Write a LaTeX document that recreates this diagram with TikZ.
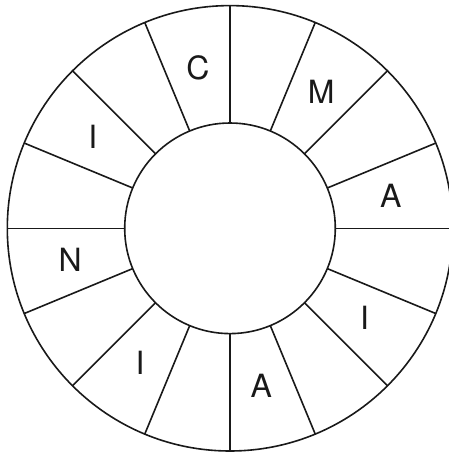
\documentclass[tikz,border=0pt]{standalone}
\usepackage{fontspec}
\setmainfont{TeX Gyre Heros}
\usetikzlibrary{calc}
\begin{document}
\begin{tikzpicture}[x=1pt,y=1pt,
  ring/.style={line width=1.6pt, draw=black!90},
  letter/.style={font=\fontsize{32}{32}\selectfont, inner sep=0pt, text=black!90}]
\useasboundingbox (0,0) rectangle (449,-452);
\clip (0,0) rectangle (449,-452);
\coordinate (O) at (230,-228.3);
\draw[ring] (O) circle[radius=222.7];
\draw[ring] (O) circle[radius=105.3];
\foreach \a in {0,22.5,...,337.5}{
  \draw[ring] ($(O)+(\a:105.3)$) -- ($(O)+(\a:222.7)$);
}
\node[letter] (c)  at ($(O)+(101.25:164)$) {C};
\node[letter] (m)  at ($(O)+(56.25:164)$) {M};
\node[letter] (a1) at ($(O)+(11.25:164)$) {A};
\node[letter] (i1) at ($(O)+(-33.75:162)$) {I};
\node[letter] (a2) at ($(O)+(-78.75:161)$) {A};
\node[letter] (i2) at ($(O)+(-123.75:162)$) {I};
\node[letter] (n)  at ($(O)+(191.25:163)$) {N};
\node[letter] (i3) at ($(O)+(146.25:165)$) {I};
\end{tikzpicture}
\end{document}
